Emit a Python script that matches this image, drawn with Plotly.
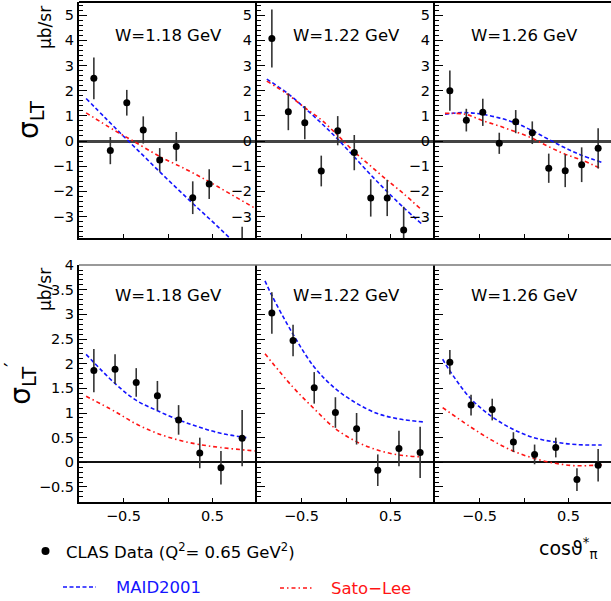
import plotly.graph_objects as go

W, H = 611, 601
def px(x): return x / W
def py(y): return 1 - y / H

FONT = "DejaVu Sans"

# ---------------- data ----------------
cos_top = [-0.833, -0.648, -0.463, -0.278, -0.093, 0.093, 0.278, 0.463, 0.648, 0.833]
cos_bot = [-0.833, -0.595, -0.357, -0.119, 0.119, 0.357, 0.595, 0.833]

# sigma_LT data
slt_118 = [2.49, -0.38, 1.52, 0.44, -0.75, -0.22, -2.25, -1.71, -5.5, -4.2]
slt_118_err = [0.83, 0.54, 0.51, 0.54, 0.47, 0.58, 0.65, 0.59, 0.9, 0.8]
slt_122 = [4.07, 1.16, 0.73, -1.19, 0.41, -0.46, -2.26, -2.26, -3.53, -5.0]
slt_122_err = [1.15, 0.73, 0.66, 0.61, 0.58, 0.70, 0.74, 0.72, 0.92, 1.0]
slt_126 = [2.0, 0.83, 1.14, -0.09, 0.77, 0.33, -1.08, -1.18, -0.94, -0.29]
slt_126_err = [0.8, 0.45, 0.54, 0.42, 0.46, 0.45, 0.58, 0.65, 0.69, 0.8]

# sigma_LT' data
sltp_118 = [1.86, 1.89, 1.62, 1.35, 0.86, 0.19, -0.11, 0.49]
sltp_118_err = [0.44, 0.30, 0.29, 0.30, 0.30, 0.31, 0.34, 0.57]
sltp_122 = [3.03, 2.47, 1.51, 1.01, 0.68, -0.16, 0.28, 0.20]
sltp_122_err = [0.42, 0.32, 0.32, 0.31, 0.32, 0.32, 0.36, 0.52]
sltp_126 = [2.03, 1.16, 1.07, 0.41, 0.16, 0.30, -0.35, -0.06]
sltp_126_err = [0.25, 0.21, 0.22, 0.20, 0.20, 0.20, 0.23, 0.33]

# model curves: sigma_LT
maid_lt_118_x = [-0.92, -0.7, -0.5, -0.3, -0.1, 0.1, 0.3, 0.5, 0.7, 0.92]
maid_lt_118 = [1.69, 0.90, 0.19, -0.50, -1.20, -1.88, -2.55, -3.20, -3.87, -4.60]
sl_lt_118_x = [-0.92, -0.6, -0.39, -0.1, 0.2, 0.46, 0.7, 0.98]
sl_lt_118 = [1.12, 0.42, 0.0, -0.60, -1.12, -1.61, -2.10, -2.67]

maid_lt_122_x = [-0.89, -0.655, -0.47, -0.28, -0.1, 0.09, 0.28, 0.46, 0.65, 0.85]
maid_lt_122 = [2.46, 1.89, 1.33, 0.72, 0.10, -0.62, -1.35, -2.00, -2.65, -3.29]
sl_lt_122_x = [-0.89, -0.655, -0.47, -0.28, -0.1, 0.09, 0.28, 0.46, 0.65, 0.83]
sl_lt_122 = [2.38, 1.85, 1.34, 0.85, 0.25, -0.42, -1.00, -1.55, -2.10, -2.67]

maid_lt_126_x = [-0.888, -0.75, -0.6, -0.467, -0.28, -0.097, 0.087, 0.275, 0.46, 0.643, 0.876]
maid_lt_126 = [1.06, 1.12, 1.12, 1.06, 0.92, 0.72, 0.42, 0.07, -0.27, -0.56, -0.85]
sl_lt_126_x = [-0.888, -0.655, -0.467, -0.28, -0.097, 0.087, 0.275, 0.46, 0.643, 0.876]
sl_lt_126 = [1.10, 1.06, 0.81, 0.60, 0.37, 0.12, -0.22, -0.52, -0.75, -1.11]

# model curves: sigma_LT'
maid_ltp_118_x = [-0.92, -0.596, -0.36, -0.124, 0.12, 0.356, 0.592, 0.88]
maid_ltp_118 = [2.19, 1.60, 1.26, 1.05, 0.86, 0.71, 0.59, 0.50]
sl_ltp_118_x = [-0.92, -0.596, -0.36, -0.124, 0.12, 0.356, 0.592, 0.98]
sl_ltp_118 = [1.34, 1.03, 0.78, 0.59, 0.45, 0.36, 0.30, 0.23]

maid_ltp_122_x = [-0.91, -0.835, -0.599, -0.36, -0.124, 0.116, 0.352, 0.592, 0.869]
maid_ltp_122 = [3.68, 3.39, 2.61, 1.94, 1.50, 1.20, 0.99, 0.88, 0.82]
sl_ltp_122_x = [-0.91, -0.599, -0.36, -0.124, 0.116, 0.352, 0.592, 0.85]
sl_ltp_122 = [2.20, 1.53, 1.09, 0.69, 0.42, 0.25, 0.15, 0.11]

maid_ltp_126_x = [-0.914, -0.839, -0.603, -0.363, -0.124, 0.112, 0.352, 0.588, 0.873]
maid_ltp_126 = [2.09, 1.87, 1.30, 0.93, 0.67, 0.50, 0.41, 0.36, 0.35]
sl_ltp_126_x = [-0.914, -0.603, -0.363, -0.124, 0.112, 0.352, 0.588, 0.873]
sl_ltp_126 = [1.11, 0.72, 0.45, 0.23, 0.08, -0.02, -0.07, -0.05]

w_labels = ["W=1.18 GeV", "W=1.22 GeV", "W=1.26 GeV"]
y_titles = ["\u03c3<sub>LT</sub>", "\u03c3<sub>LT</sub><sup>\u2032</sup>"]
xtick_vals = [-0.5, 0.5]
xtick_text = ["\u22120.5", "0.5"]

panels = [
    (0, 0, cos_top, slt_118, slt_118_err, maid_lt_118_x, maid_lt_118, sl_lt_118_x, sl_lt_118),
    (0, 1, cos_top, slt_122, slt_122_err, maid_lt_122_x, maid_lt_122, sl_lt_122_x, sl_lt_122),
    (0, 2, cos_top, slt_126, slt_126_err, maid_lt_126_x, maid_lt_126, sl_lt_126_x, sl_lt_126),
    (1, 0, cos_bot, sltp_118, sltp_118_err, maid_ltp_118_x, maid_ltp_118, sl_ltp_118_x, sl_ltp_118),
    (1, 1, cos_bot, sltp_122, sltp_122_err, maid_ltp_122_x, maid_ltp_122, sl_ltp_122_x, sl_ltp_122),
    (1, 2, cos_bot, sltp_126, sltp_126_err, maid_ltp_126_x, maid_ltp_126, sl_ltp_126_x, sl_ltp_126),
]

# ---------------- layout geometry ----------------
xdom_px = [(79, 257), (257, 435), (435, 611)]
xranges = [[-1, 1], [-1, 1], [-1, -1 + 176 / 89]]
ydom_px = [(2, 238), (265, 502)]
yranges = [[-3.85, 5.52], [-0.805, 4.002]]

BLUE = "rgb(20,20,255)"
RED = "rgb(255,20,20)"

fig = go.Figure()
layout = dict(
    width=W, height=H, autosize=False,
    margin=dict(l=0, r=0, t=0, b=0, autoexpand=False),
    paper_bgcolor="white", plot_bgcolor="white",
    showlegend=False, template="none",
    font=dict(family=FONT, color="black"),
)

annotations = []
shapes = []

for i, (r, c, xs, ys, es, mx, my, sx, sy) in enumerate(panels):
    n = i + 1
    xa = "x" if n == 1 else f"x{n}"
    ya = "y" if n == 1 else f"y{n}"
    x0, x1 = xdom_px[c]
    yt, yb = ydom_px[r]
    layout["xaxis" if n == 1 else f"xaxis{n}"] = dict(
        domain=[px(x0), px(x1)], range=xranges[c], anchor=ya,
        showline=True, linecolor="black", linewidth=2, mirror=False,
        ticks="inside", ticklen=4, tickwidth=1, tickcolor="black",
        tickvals=xtick_vals, ticktext=xtick_text,
        minor=dict(tickvals=[0], ticks="inside", ticklen=4, tickwidth=1, tickcolor="black"),
        showticklabels=(r == 1), tickfont=dict(family=FONT, size=14.5),
        showgrid=False, zeroline=False, fixedrange=True, automargin=False,
    )
    yax = dict(
        domain=[py(yb), py(yt)], range=yranges[r], anchor=xa,
        showline=True, linecolor="black", linewidth=2,
        ticks="inside", ticklen=8, tickwidth=1, tickcolor="black",
        dtick=1 if r == 0 else 0.5, tick0=0,
        minor=dict(ticks="inside", ticklen=4, tickwidth=1, tickcolor="black",
                   dtick=0.2 if r == 0 else 0.1),
        showticklabels=(r == 0 or c == 0), tickfont=dict(family=FONT, size=14.5),
        showgrid=False,
        zeroline=True, zerolinecolor="#444" if r == 0 else "#111",
        zerolinewidth=2.5 if r == 0 else 1.5,
        fixedrange=True, automargin=False,
    )
    if c == 0:
        yax["title"] = dict(text=y_titles[r], font=dict(family=FONT, size=28, color="black"),
                            standoff=6)
    layout["yaxis" if n == 1 else f"yaxis{n}"] = yax
    fig.add_trace(go.Scatter(x=mx, y=my, mode="lines", xaxis=xa, yaxis=ya,
                             line=dict(color=BLUE, width=1.6, dash="4px,2.5px", shape="spline")))
    fig.add_trace(go.Scatter(x=sx, y=sy, mode="lines", xaxis=xa, yaxis=ya,
                             line=dict(color=RED, width=1.6, dash="4px,3px,1.5px,3px", shape="spline")))
    fig.add_trace(go.Scatter(x=xs, y=ys, mode="markers", xaxis=xa, yaxis=ya,
                             marker=dict(color="black", size=7),
                             error_y=dict(type="data", array=es, visible=True, width=0,
                                          thickness=1.6, color="#333")))
    cx = x0 + 89
    annotations.append(dict(text=w_labels[c], xref="paper", yref="paper",
                            x=px(cx), y=py(35.5 if r == 0 else 295),
                            xanchor="center", yanchor="middle", showarrow=False,
                            font=dict(family=FONT, size=16.5, color="black")))

# frame tops
shapes.append(dict(type="line", xref="paper", yref="paper", x0=px(79), x1=1, y0=py(2), y1=py(2),
                   line=dict(color="black", width=2)))
shapes.append(dict(type="line", xref="paper", yref="paper", x0=px(79), x1=1, y0=py(265), y1=py(265),
                   line=dict(color="#777", width=1.5)))

# unit labels (rotated)
for mu_c in (28, 290):
    annotations.append(dict(text="\u03bcb/sr", xref="paper", yref="paper", x=px(45), y=py(mu_c),
                            textangle=-90, showarrow=False, xanchor="center", yanchor="middle",
                            font=dict(family=FONT, size=17, color="black")))

# x axis title
annotations.append(dict(text="cos\u03d1<sup>*</sup><sub>\u03c0</sub>", xref="paper", yref="paper",
                        x=px(537), y=py(548), xanchor="left", yanchor="middle", showarrow=False,
                        font=dict(family=FONT, size=19, color="black")))

# legend
shapes.append(dict(type="circle", xref="paper", yref="paper", x0=px(41.5), x1=px(49.5),
                   y0=py(555), y1=py(547), fillcolor="black", line=dict(color="black", width=0)))
annotations.append(dict(text="CLAS Data (Q<sup>2</sup>= 0.65 GeV<sup>2</sup>)", xref="paper", yref="paper",
                        x=px(64), y=py(551), xanchor="left", yanchor="middle", showarrow=False,
                        font=dict(family=FONT, size=16.5, color="black")))
shapes.append(dict(type="line", xref="paper", yref="paper", x0=px(63), x1=px(96), y0=py(587), y1=py(587),
                   line=dict(color=BLUE, width=1.3, dash="4px,2.5px")))
annotations.append(dict(text="MAID2001", xref="paper", yref="paper",
                        x=px(114), y=py(587), xanchor="left", yanchor="middle", showarrow=False,
                        font=dict(family=FONT, size=16.5, color=BLUE)))
shapes.append(dict(type="line", xref="paper", yref="paper", x0=px(280), x1=px(313), y0=py(588), y1=py(588),
                   line=dict(color=RED, width=1.3, dash="4px,3px,1.5px,3px")))
annotations.append(dict(text="Sato\u2212Lee", xref="paper", yref="paper",
                        x=px(329), y=py(588), xanchor="left", yanchor="middle", showarrow=False,
                        font=dict(family=FONT, size=16.5, color=RED)))

layout["annotations"] = annotations
layout["shapes"] = shapes
fig.update_layout(**layout)
fig.write_html("out.html", config={"displayModeBar": False},
               post_script="document.body.style.margin='0';document.body.style.padding='0';"
                           "document.body.style.overflow='hidden';")
